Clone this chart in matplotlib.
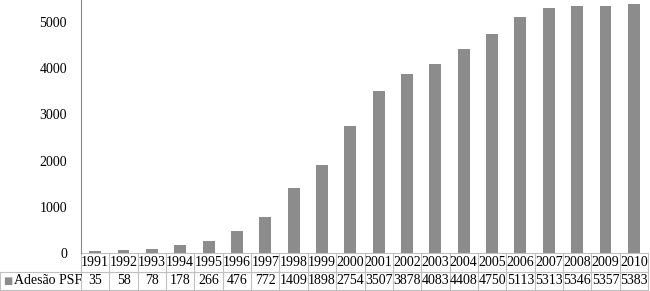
import matplotlib.pyplot as plt
import matplotlib.transforms as mtransforms
import numpy as np

plt.rcParams["font.family"] = ["Liberation Serif", "DejaVu Serif"]

years = [str(y) for y in range(1991, 2011)]
adesao = [35, 58, 78, 178, 266, 476, 772, 1409, 1898, 2754,
          3507, 3878, 4083, 4408, 4750, 5113, 5313, 5346, 5357, 5383]
series_label = "Adesão PSF"
bar_color = "#8c8c8c"
grid_color = "#c0c0c0"

W, H = 650, 291
fig = plt.figure(figsize=(W / 100, H / 100), dpi=100)
ax_l, ax_r, ax_top, ax_bot = 81, 648, 0, 253
ax = fig.add_axes([ax_l / W, (H - ax_bot) / H, (ax_r - ax_l) / W, (ax_bot - ax_top) / H])

n = len(years)
x = np.arange(n)
ax.bar(x, adesao, width=0.42, color=bar_color)
ax.set_xlim(-0.5, n - 0.5)
ax.set_ylim(0, 5480)
ax.set_yticks(range(0, 6000, 1000))
ax.tick_params(axis="y", length=0, pad=10, labelsize=10)
ax.set_xticks([])
for s in ["top", "right", "bottom"]:
    ax.spines[s].set_visible(False)
ax.spines["left"].set_color("#888888")

# data table drawn under the bars: x in data units, y in axes units
tr = mtransforms.blended_transform_factory(ax.transData, ax.transAxes)
axh = ax_bot - ax_top
col_px = (ax_r - ax_l) / n
left_x = -0.5 - ax_l / col_px
y0, y1, y2 = 0.0, -19 / axh, -37 / axh
kw = dict(color=grid_color, lw=0.8, transform=tr, clip_on=False)
ax.plot([-0.5, n - 0.5], [y0, y0], **kw)
ax.plot([left_x, n - 0.5], [y1, y1], **kw)
ax.plot([left_x, n - 0.5], [y2, y2], **kw)
ax.plot([left_x, left_x], [y1, y2], **kw)
for i in range(n + 1):
    ax.plot([i - 0.5, i - 0.5], [y0, y2], **kw)
for i in range(n):
    ax.text(i, (y0 + y1) / 2, years[i], transform=tr, ha="center", va="center",
            fontsize=10, clip_on=False)
    ax.text(i, (y1 + y2) / 2, str(adesao[i]), transform=tr, ha="center", va="center",
            fontsize=10, clip_on=False)
ax.text(left_x + 0.12, (y1 + y2) / 2, "\u25A0", transform=tr, ha="left", va="center",
        color=bar_color, fontsize=7, family="DejaVu Sans", clip_on=False)
ax.text(left_x + 0.5, (y1 + y2) / 2, series_label, transform=tr, ha="left", va="center",
        fontsize=10, clip_on=False)

fig.savefig("out.png", dpi=100)
